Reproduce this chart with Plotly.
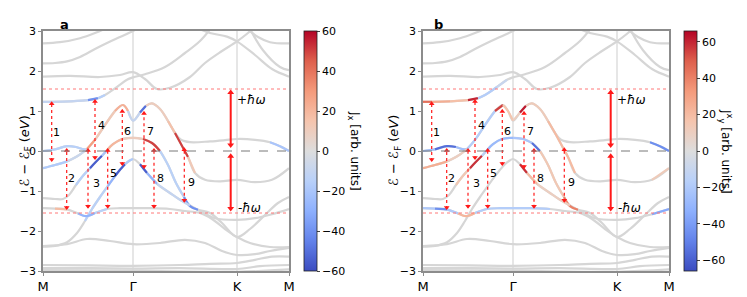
import plotly.graph_objects as go
from plotly.colors import sample_colorscale

# ---------------- data ----------------
# k-path distance (arbitrary units): M=0, Γ=90, K=194, M=246
K_TICKS = [0, 90, 194, 246]
K_LABELS = ["M", "Γ", "K", "M"]
HBAR_OMEGA = 1.55
Y_TICKS = [-3, -2, -1, 0, 1, 2, 3]
CBAR_A_TICKS = [-60, -40, -20, 0, 20, 40, 60]
CBAR_B_TICKS = [-60, -40, -20, 0, 20, 40, 60]
CBAR_A_RANGE = [-60, 60]
CBAR_B_RANGE = [-66, 66]

band_C5_k = [0, 17, 37, 52, 64, 72]
band_C5_E = [2.69, 2.72, 2.82, 2.95, 3.08, 3.2]
band_C4_k = [0, 12, 24, 37, 52, 64, 77, 90, 97]
band_C4_E = [2.19, 2.2, 2.24, 2.35, 2.55, 2.7, 2.85, 3.0, 3.1]
band_C3_k = [0, 27, 57, 77, 90, 102, 114, 127, 147, 162, 179, 194, 205, 212]
band_C3_E = [1.86, 1.88, 1.85, 1.9, 1.97, 1.8, 1.55, 1.58, 1.85, 2.2, 2.5, 2.74, 2.95, 3.1]
band_A_k = [0, 9, 27, 45, 55, 62, 74, 84, 90, 102, 122, 142, 157, 169]
band_A_E = [1.23, 1.23, 1.24, 1.27, 1.32, 1.4, 1.6, 1.78, 1.84, 1.92, 2.1, 2.45, 2.75, 3.1]
band_C6_k = [152, 167, 184, 194, 212, 229, 246]
band_C6_E = [3.1, 2.95, 2.86, 2.74, 2.4, 2.05, 1.86]
band_C7_k = [202, 215, 227, 246]
band_C7_E = [3.1, 2.85, 2.72, 2.69]
band_C8_k = [207, 220, 237, 246]
band_C8_E = [3.05, 2.52, 2.1, 2.02]
band_U_k = [0, 12, 24, 35, 44, 52, 62, 72, 80, 85, 90, 97, 103, 109, 117, 125, 132,
            140, 145, 152, 162, 177, 194, 212, 229, 246]
band_U_E = [-0.43, -0.35, -0.26, -0.12, 0.05, 0.28, 0.65, 1.0, 1.15, 1.0, 0.76, 0.96,
            1.13, 1.19, 1.05, 0.75, 0.45, 0.08, -0.15, -0.55, -0.72, -0.76, -0.72,
            -0.78, -0.72, -0.43]
band_P_k = [125, 132, 138, 147, 167, 182, 194, 212, 227, 237, 246]
band_P_E = [0.75, 0.45, 0.28, 0.22, 0.24, 0.27, 0.3, 0.28, 0.22, 0.12, 0.0]
band_Z_k = [0, 12, 24, 33, 41, 45]
band_Z_E = [0.0, 0.04, 0.12, 0.1, 0.04, 0.05]
band_C1_k = [0, 12, 20, 26, 33, 40, 47, 53, 59, 64, 70, 79, 90, 100, 109, 117, 125,
             133, 141, 147, 155, 167, 179, 194, 207, 222, 235, 246]
band_C1_E = [-1.18, -1.2, -1.2, -1.1, -0.85, -0.62, -0.43, -0.27, -0.12, 0.02, 0.17,
             0.3, 0.33, 0.3, 0.2, 0.0, -0.35, -0.8, -1.15, -1.38, -1.47, -1.55, -1.8,
             -2.15, -1.95, -1.6, -1.3, -1.15]
band_V_k = [0, 12, 24, 34, 42, 49, 57, 65, 72, 77, 82, 86, 90, 97, 104, 114, 127, 137,
            147, 157, 172, 194, 212, 229, 246]
band_V_E = [-2.39, -2.37, -2.28, -2.05, -1.75, -1.45, -1.15, -0.87, -0.63, -0.47,
            -0.33, -0.25, -0.2, -0.33, -0.55, -0.82, -1.05, -1.22, -1.36, -1.5, -1.68,
            -1.72, -1.68, -1.58, -1.45]
band_F_k = [0, 12, 24, 35, 43, 52, 64, 77, 90, 107, 127, 142, 157, 169, 182, 194, 207,
            227, 246]
band_F_E = [-1.43, -1.44, -1.46, -1.56, -1.63, -1.55, -1.45, -1.43, -1.43, -1.43,
            -1.45, -1.5, -1.55, -1.7, -1.95, -2.15, -2.3, -2.4, -2.4]
band_W_k = [0, 24, 44, 67, 90, 117, 142, 162, 179, 194, 212, 227, 246]
band_W_E = [-2.38, -2.33, -2.2, -2.25, -2.33, -2.3, -2.22, -2.3, -2.5, -2.6, -2.58,
            -2.5, -2.42]
band_B1_k = [0, 47, 90, 137, 167, 194, 212, 229, 246]
band_B1_E = [-2.85, -2.86, -2.87, -2.85, -2.82, -2.8, -2.72, -2.64, -2.64]
band_B2_k = [0, 47, 90, 137, 194, 217, 246]
band_B2_E = [-2.93, -2.93, -2.94, -2.93, -2.95, -2.88, -2.85]
band_B3_k = [0, 90, 194, 246]
band_B3_E = [-2.98, -2.99, -3.02, -2.96]

# coloured stretches of bands: (band, k_from, k_to, current value)
segments_a = [
    ("A", 0, 45, -10), ("A", 45, 55, -40), ("A", 55, 62, -15),
    ("Z", 0, 45, -15),
    ("U", 0, 24, -18), ("U", 24, 44, -8), ("U", 44, 52, 28), ("U", 52, 72, 12),
    ("U", 72, 85, 22), ("U", 85, 97, -10), ("U", 97, 103, -50), ("U", 103, 125, 10),
    ("U", 125, 132, 16), ("U", 132, 145, 50), ("U", 145, 152, 12),
    ("C1", 33, 47, -15), ("C1", 47, 59, -55), ("C1", 59, 64, -20), ("C1", 64, 79, 20),
    ("C1", 79, 100, 10), ("C1", 100, 117, 50), ("C1", 117, 141, -14), ("C1", 141, 155, -40),
    ("V", 42, 65, -14), ("V", 65, 72, -28), ("V", 72, 82, -55), ("V", 82, 90, -18),
    ("V", 97, 104, -55), ("V", 104, 114, -28), ("V", 114, 147, -10),
    ("F", 12, 24, 18), ("F", 35, 52, -28), ("F", 52, 64, -14),
    ("P", 227, 246, -20),
]
segments_b = [
    ("A", 0, 9, 45), ("A", 9, 27, 25), ("A", 27, 45, 18), ("A", 45, 55, 60),
    ("A", 55, 74, -18), ("A", 74, 84, -10),
    ("Z", 0, 12, -25), ("Z", 12, 33, -55), ("Z", 33, 45, -25),
    ("U", 0, 24, 25), ("U", 24, 44, 10), ("U", 44, 72, -18), ("U", 72, 80, 55),
    ("U", 80, 90, 16), ("U", 90, 97, 10), ("U", 97, 103, 62), ("U", 103, 125, 12),
    ("U", 125, 152, 20), ("U", 229, 246, 12),
    ("C1", 33, 47, 14), ("C1", 47, 59, 58), ("C1", 59, 64, -15), ("C1", 64, 90, -28),
    ("C1", 90, 109, -22), ("C1", 109, 117, -55), ("C1", 117, 141, 14), ("C1", 141, 155, 40),
    ("V", 97, 104, 58), ("V", 104, 114, 20), ("V", 114, 147, 10), ("V", 229, 246, -35),
    ("F", 0, 12, -20), ("F", 12, 24, -45), ("F", 24, 35, -20), ("F", 35, 52, 22),
    ("F", 52, 127, -18),
    ("P", 227, 246, -45),
]

# transition arrows: k, E_low, E_high
arrow_k = [8.7, 23.7, 45, 52, 64.7, 79.3, 101, 111, 141.3]
arrow_lo = [-0.25, -1.45, -1.42, -0.2, -1.42, -0.35, -0.43, -1.42, -1.27]
arrow_hi = [1.22, 0.05, 0.05, 1.28, 0.05, 1.03, 0.98, 0.05, 0.07]
arrow_labels = ["1", "2", "3", "4", "5", "6", "7", "8", "9"]
label_k = [13.7, 28.7, 53.7, 58.7, 70, 84.3, 107.7, 117.7, 148.7]
label_E = [0.46, -0.68, -0.8, 0.65, -0.55, 0.48, 0.48, -0.68, -0.79]

big_arrow_k = [187.7, 187.7]
big_arrow_lo = [0.1, -1.49]
big_arrow_hi = [1.51, -0.08]
big_labels = ["+<i>ħω</i>", "-<i>ħω</i>"]
big_label_k = [208, 206]
big_label_E = [1.28, -1.43]

# ---------------- figure ----------------
BANDS = {
    "C5": (band_C5_k, band_C5_E), "C4": (band_C4_k, band_C4_E),
    "C3": (band_C3_k, band_C3_E), "A": (band_A_k, band_A_E),
    "C6": (band_C6_k, band_C6_E), "C7": (band_C7_k, band_C7_E),
    "C8": (band_C8_k, band_C8_E), "U": (band_U_k, band_U_E),
    "P": (band_P_k, band_P_E), "Z": (band_Z_k, band_Z_E),
    "C1": (band_C1_k, band_C1_E), "V": (band_V_k, band_V_E),
    "F": (band_F_k, band_F_E), "W": (band_W_k, band_W_E),
    "B1": (band_B1_k, band_B1_E), "B2": (band_B2_k, band_B2_E),
    "B3": (band_B3_k, band_B3_E),
}

COOLWARM = [[0.0, "rgb(59,76,192)"], [0.125, "rgb(98,130,234)"],
            [0.25, "rgb(141,176,254)"], [0.375, "rgb(184,208,249)"],
            [0.5, "rgb(221,221,221)"], [0.625, "rgb(245,196,173)"],
            [0.75, "rgb(244,154,123)"], [0.875, "rgb(222,96,77)"],
            [1.0, "rgb(180,4,38)"]]

FONT = "DejaVu Sans"
GREY = "rgb(214,214,214)"
RED = "rgb(255,25,25)"
# the page body adds an 8 px margin, so the figure is 8 px smaller each way
W = 739
H = 289

fig = go.Figure()

panels = [
    dict(xa="x", ya="y", segs=segments_a, rng=CBAR_A_RANGE, ticks=CBAR_A_TICKS,
         cbx=296 / W),
    dict(xa="x2", ya="y2", segs=segments_b, rng=CBAR_B_RANGE, ticks=CBAR_B_TICKS,
         cbx=676 / W),
]

for p in panels:
    xa, ya = p["xa"], p["ya"]
    for name, (ks, es) in BANDS.items():
        fig.add_trace(go.Scatter(x=ks, y=es, mode="lines", xaxis=xa, yaxis=ya,
                                 line=dict(color=GREY, width=2.2, shape="spline"),
                                 hoverinfo="skip", showlegend=False))
    lo, hi = p["rng"]
    for name, k0, k1, j in p["segs"]:
        ks, es = BANDS[name]
        idx = [i for i, kk in enumerate(ks) if k0 <= kk <= k1]
        if len(idx) < 2:
            continue
        col = sample_colorscale(COOLWARM, [(j - lo) / (hi - lo)])[0]
        fig.add_trace(go.Scatter(x=[ks[i] for i in idx], y=[es[i] for i in idx],
                                 mode="lines", xaxis=xa, yaxis=ya,
                                 line=dict(color=col, width=2.2, shape="spline"),
                                 hoverinfo="skip", showlegend=False))
    # small dotted arrows
    for k, e0, e1 in zip(arrow_k, arrow_lo, arrow_hi):
        fig.add_trace(go.Scatter(x=[k, k], y=[e0, e1], mode="lines", xaxis=xa, yaxis=ya,
                                 line=dict(color=RED, width=1.2, dash="dot"),
                                 hoverinfo="skip", showlegend=False))
        fig.add_trace(go.Scatter(x=[k, k], y=[e0 + 0.04, e1 - 0.04], mode="markers",
                                 xaxis=xa, yaxis=ya,
                                 marker=dict(symbol=["triangle-down", "triangle-up"],
                                             size=5, color=RED, line=dict(width=0)),
                                 hoverinfo="skip", showlegend=False))
    for k, e0, e1 in zip(big_arrow_k, big_arrow_lo, big_arrow_hi):
        fig.add_trace(go.Scatter(x=[k, k], y=[e0 + 0.05, e1 - 0.05], mode="lines",
                                 xaxis=xa, yaxis=ya,
                                 line=dict(color=RED, width=2.0),
                                 hoverinfo="skip", showlegend=False))
        fig.add_trace(go.Scatter(x=[k, k], y=[e0 + 0.05, e1 - 0.05], mode="markers",
                                 xaxis=xa, yaxis=ya,
                                 marker=dict(symbol=["triangle-down", "triangle-up"],
                                             size=6, color=RED, line=dict(width=0)),
                                 hoverinfo="skip", showlegend=False))
    # colourbar carrier
    fig.add_trace(go.Scatter(x=[0, 0], y=[-10, -10], mode="markers", xaxis=xa, yaxis=ya,
                             marker=dict(color=[lo, hi], cmin=lo, cmax=hi,
                                         colorscale=COOLWARM, showscale=True, size=1,
                                         colorbar=dict(x=p["cbx"], xanchor="left",
                                                       y=146 / H, yanchor="middle",
                                                       len=240, lenmode="pixels",
                                                       thickness=13, outlinewidth=0.8,
                                                       outlinecolor="#222",
                                                       tickvals=p["ticks"],
                                                       ticks="outside", ticklen=3,
                                                       tickfont=dict(size=11, family=FONT,
                                                                     color="black"),
                                                       xpad=0, ypad=0)),
                             hoverinfo="skip", showlegend=False))
    # reference lines
    for kv in [90, 194]:
        fig.add_shape(type="line", xref=xa, yref=ya, x0=kv, x1=kv, y0=-3, y1=3,
                      line=dict(color="rgb(222,222,222)", width=1.5), layer="below")
    fig.add_shape(type="line", xref=xa, yref=ya, x0=0, x1=246, y0=0, y1=0,
                  line=dict(color="rgb(120,120,120)", width=1, dash="dash"), layer="above")
    for s in [1, -1]:
        fig.add_shape(type="line", xref=xa, yref=ya, x0=0, x1=246,
                      y0=s * HBAR_OMEGA, y1=s * HBAR_OMEGA,
                      line=dict(color="rgb(255,120,120)", width=1, dash="dot"),
                      layer="above")
    for t, k, e in zip(arrow_labels, label_k, label_E):
        fig.add_annotation(x=k, y=e, xref=xa, yref=ya, text=t, showarrow=False,
                           font=dict(size=11, family=FONT, color="black"))
    for t, k, e in zip(big_labels, big_label_k, big_label_E):
        fig.add_annotation(x=k, y=e, xref=xa, yref=ya, text=t, showarrow=False,
                           font=dict(size=12, family=FONT, color="black"))

axis_common = dict(showgrid=False, zeroline=False, showline=True, mirror=True,
                   linecolor="rgb(140,140,140)", linewidth=1.5, automargin=False)
xax = dict(range=[0, 246], tickvals=K_TICKS, ticktext=K_LABELS, ticks="outside",
           ticklen=3, tickcolor="rgb(140,140,140)",
           tickfont=dict(size=13, family=FONT, color="black"), **axis_common)
yax = dict(range=[-3, 3], tickvals=Y_TICKS, ticks="outside", ticklen=3,
           tickcolor="rgb(140,140,140)",
           tickfont=dict(size=11, family=FONT, color="black"), **axis_common)

fig.update_layout(
    width=W, height=H, margin=dict(l=0, r=0, t=0, b=0, autoexpand=False),
    paper_bgcolor="white", plot_bgcolor="white",
    font=dict(family=FONT, color="black"),
    xaxis=dict(domain=[35 / W, 281 / W], anchor="y", **xax),
    yaxis=dict(domain=[26 / H, 266 / H], anchor="x", **yax),
    xaxis2=dict(domain=[415 / W, 661 / W], anchor="y2", **xax),
    yaxis2=dict(domain=[26 / H, 266 / H], anchor="x2", **yax),
)

ytitle = "ℰ − ℰ<sub>F</sub> (<i>eV</i>)"
for xp in [6 / W, 386 / W]:
    fig.add_annotation(x=xp, y=146 / H, xref="paper", yref="paper", text=ytitle,
                       textangle=-90, showarrow=False,
                       font=dict(size=13, family=FONT, color="black"))
for xp, t in [(346 / W, "J<sub>x</sub> [arb. units]"),
              (729 / W, "J<sup>x</sup><sub>y</sub> [arb. units]")]:
    fig.add_annotation(x=xp, y=146 / H, xref="paper", yref="paper", text=t,
                       textangle=90, showarrow=False,
                       font=dict(size=12, family=FONT, color="black"))
for xp, t in [(50 / W, "a"), (430 / W, "b")]:
    fig.add_annotation(x=xp, y=1 - 7 / H, xref="paper", yref="paper", text="<b>" + t + "</b>",
                       showarrow=False, font=dict(size=13, family=FONT, color="black"))

fig.write_html("out.html")
